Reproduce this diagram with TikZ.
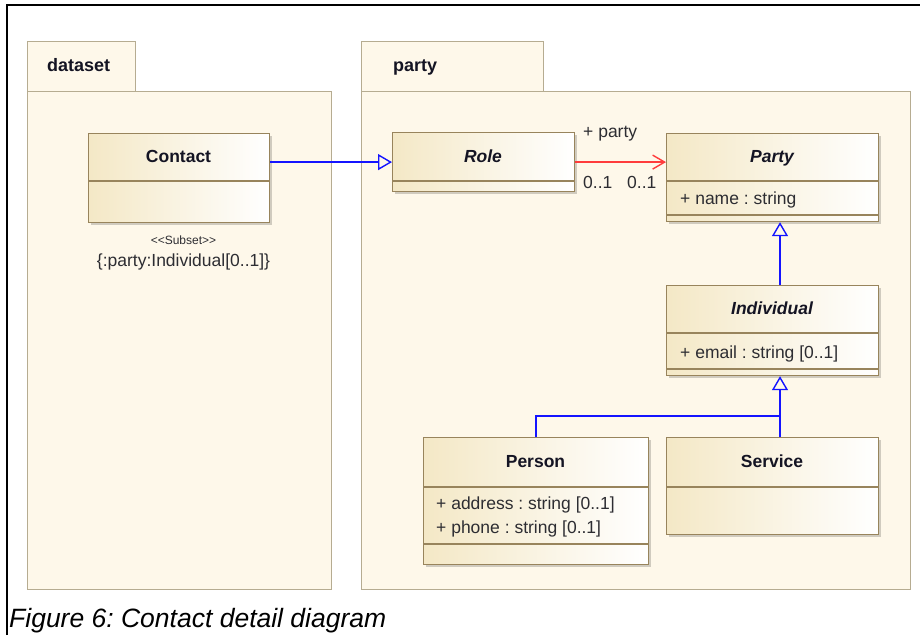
\documentclass[tikz,border=0pt]{standalone}
\usepackage{fontspec}
\setmainfont{Liberation Sans}
\usetikzlibrary{arrows.meta,shadows,calc}
\definecolor{pkgfill}{RGB}{254,248,234}
\definecolor{pkgline}{RGB}{182,172,145}
\definecolor{clsL}{RGB}{244,232,198}
\definecolor{clsline}{RGB}{152,132,92}
\definecolor{genblue}{RGB}{20,20,255}
\definecolor{assocred}{RGB}{255,60,60}
\definecolor{txt}{RGB}{20,20,35}
\definecolor{attrtxt}{RGB}{45,45,50}
\frenchspacing
\begin{document}
\begin{tikzpicture}[x=1pt,y=-1pt,
  pkg/.style={draw=pkgline, fill=pkgfill, line width=1.3pt, inner sep=0pt, anchor=north west},
  cls/.style={draw=clsline, left color=clsL, right color=white, line width=1.2pt, inner sep=0pt, anchor=north west,
    drop shadow={shadow xshift=2pt, shadow yshift=-2pt, fill=black, opacity=0.18}},
  sepline/.style={draw=clsline, line width=1.2pt},
  pkglabel/.style={font=\fontsize{18}{20}\selectfont\bfseries, text=txt, anchor=base west, inner sep=0pt},
  cname/.style={font=\fontsize{17.5}{20}\selectfont\bfseries, text=txt, anchor=base, inner sep=0pt},
  aname/.style={font=\fontsize{17.5}{20}\selectfont\bfseries\itshape, text=txt, anchor=base, inner sep=0pt},
  attr/.style={font=\fontsize{17.5}{20}\selectfont, text=attrtxt, anchor=base west, inner sep=0pt},
  gen/.style={draw=genblue, line width=1.4pt, -{Triangle[open, length=14pt, width=16pt]}},
  genline/.style={draw=genblue, line width=1.4pt},
  assoc/.style={draw=assocred, line width=1.4pt, -{Straight Barb[length=12pt, width=14pt]}},
]
\useasboundingbox (0,0) rectangle (920,635);
\fill[white] (0,0) rectangle (920,635);
\draw[line width=1.2pt] (7,635) -- (7,5) -- (920,5);

% packages
\node[pkg, minimum width=108pt, minimum height=50pt] (dstab) at (27,41) {};
\node[pkg, minimum width=304pt, minimum height=498pt] (dsbody) at (27,91) {};
\node[pkglabel] (dslbl) at (47,71) {dataset};
\node[pkg, minimum width=182pt, minimum height=50pt] (ptab) at (361,41) {};
\node[pkg, minimum width=549pt, minimum height=498pt] (pbody) at (361,91) {};
\node[pkglabel] (plbl) at (393,71) {party};

% classes
\node[cls, minimum width=181pt, minimum height=89pt] (contact) at (88,133) {};
\draw[sepline] (contact.west |- 0,181) -- (contact.east |- 0,181);
\node[cname] (contactN) at (178.5,162) {Contact};

\node[cls, minimum width=182pt, minimum height=59pt] (role) at (392,132) {};
\draw[sepline] (role.west |- 0,181) -- (role.east |- 0,181);
\node[aname] (roleN) at (483,162) {Role};

\node[cls, minimum width=212pt, minimum height=88pt] (partycls) at (666,133) {};
\draw[sepline] (partycls.west |- 0,181) -- (partycls.east |- 0,181);
\draw[sepline] (partycls.west |- 0,215) -- (partycls.east |- 0,215);
\node[aname] (partyN) at (772,162) {Party};
\node[attr] (pa1) at (680,204) {+ name : string};

\node[cls, minimum width=212pt, minimum height=90pt] (indiv) at (666,285) {};
\draw[sepline] (indiv.west |- 0,333) -- (indiv.east |- 0,333);
\draw[sepline] (indiv.west |- 0,369) -- (indiv.east |- 0,369);
\node[aname] (indivN) at (772,314) {Individual};
\node[attr] (ia1) at (680,358) {+ email : string [0..1]};

\node[cls, minimum width=225pt, minimum height=127pt] (person) at (423,437) {};
\draw[sepline] (person.west |- 0,487) -- (person.east |- 0,487);
\draw[sepline] (person.west |- 0,544) -- (person.east |- 0,544);
\node[cname] (personN) at (535.5,467) {Person};
\node[attr] (pe1) at (436,509) {+ address : string [0..1]};
\node[attr] (pe2) at (436,533) {+ phone : string [0..1]};

\node[cls, minimum width=212pt, minimum height=97pt] (service) at (666,437) {};
\draw[sepline] (service.west |- 0,487) -- (service.east |- 0,487);
\node[cname] (serviceN) at (772,467) {Service};

% constraint text
\node[font=\fontsize{12}{14}\selectfont, text=attrtxt, anchor=base, inner sep=0pt] (st) at (183.5,244) {<{}<Subset>{}>};
\node[font=\fontsize{17.5}{20}\selectfont, text=attrtxt, anchor=base, inner sep=0pt] (sc) at (183.5,266) {\{:party:Individual[0..1]\}};

% connectors
\draw[gen] (contact.east |- role.west) -- (role.west);
\draw[assoc] (role.east) -- (role.east -| partycls.west);
\node[attr] (rp) at (583,137) {+ party};
\node[attr] (m1) at (583,188) {0..1};
\node[attr] (m2) at (627,188) {0..1};

\coordinate (gx) at (780,0);
\coordinate (jn) at (780,416);
\draw[gen] (indiv.north -| gx) -- (partycls.south -| gx);
\draw[gen] (service.north -| gx) -- (indiv.south -| gx);
\draw[genline] (person.north) |- (jn);

% caption
\node[font=\fontsize{26.5}{30}\selectfont\itshape, text=black, anchor=base west, inner sep=0pt] (cap) at (9,627) {Figure 6: Contact detail diagram};
\end{tikzpicture}
\end{document}
